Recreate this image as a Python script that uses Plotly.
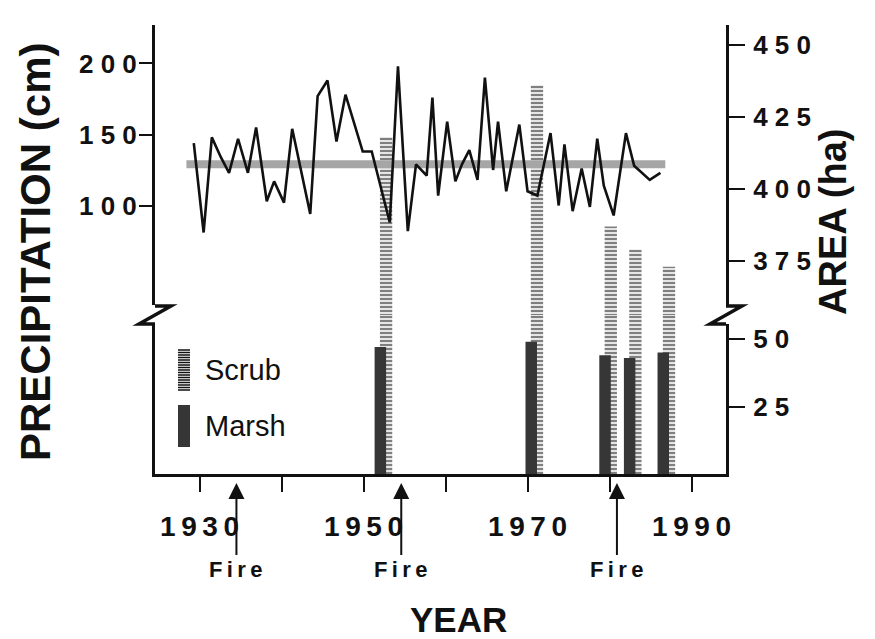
import plotly.graph_objects as go

# ---------------- data ----------------
precip_years = [1929.3, 1930.5, 1931.5, 1932.6, 1933.6, 1934.7, 1935.9, 1936.9, 1938.2, 1939.1,
                1940.3, 1941.3, 1943.5, 1944.4, 1945.6, 1946.7, 1947.8, 1949.9, 1951.0, 1953.2,
                1954.2, 1955.4, 1956.4, 1957.7, 1958.4, 1959.1, 1960.2, 1961.2, 1962.0, 1962.9,
                1963.9, 1964.8, 1965.8, 1966.4, 1967.4, 1969.0, 1970.0, 1971.2, 1972.8, 1973.8,
                1974.5, 1975.5, 1976.6, 1977.6, 1978.5, 1979.3, 1980.5, 1982.0, 1983.0, 1984.9,
                1986.2]
precip_cm = [144, 81, 148, 134, 123, 147, 123, 155, 103, 117,
             102, 154, 94, 177, 188, 145, 178, 138, 138, 88,
             198, 82, 129, 121, 176, 107, 159, 117, 129, 139,
             118, 190, 125, 159, 110, 157, 110, 107, 151, 100,
             143, 96, 126, 99, 147, 114, 93, 151, 128, 118,
             123]
mean_precip = 129
mean_span_years = [1928.4, 1986.8]

survey_years = [1952.4, 1970.8, 1979.8, 1982.8, 1986.9]
scrub_ha = [418, 436, 387, 379, 373]
marsh_ha = [47, 49, 44, 43, 45]

fire_years = [1934.5, 1954.6, 1980.9]

TS = "\u2009"  # thin space used for the letter-spaced lettering of the original
x_tickvals = [1930, 1940, 1950, 1960, 1970, 1980, 1990]
x_ticktext = [TS.join("1930"), "", TS.join("1950"), "", TS.join("1970"), "", TS.join("1990")]
precip_tickvals = [100, 150, 200]
precip_ticktext = ["1 0 0", "1 5 0", "2 0 0"]
area_hi_tickvals = [375, 400, 425, 450]
area_hi_ticktext = ["3 7 5", "4 0 0", "4 2 5", "4 5 0"]
area_lo_tickvals = [25, 50]
area_lo_ticktext = ["2 5", "5 0"]

# ---------------- geometry helpers (layout only) ----------------
W, H = 875, 639
L, R, T, B = 155, 726, 25, 474
BREAK = 315


def px(x):
    return (x - L) / (R - L)


def py(y):
    return (B - y) / (B - T)


FONT = "Liberation Sans, Arial, Helvetica, sans-serif"
INK = "#111111"

fig = go.Figure()

scrub_marker = dict(color="white",
                    pattern=dict(shape="-", fgcolor="black", bgcolor="white", size=4, solidity=0.6),
                    line=dict(width=0))

# scrub bars: lower and upper panels
fig.add_trace(go.Bar(x=survey_years, y=scrub_ha, xaxis="x", yaxis="y", width=1.5, offset=-0.4,
                     marker=scrub_marker, showlegend=False, name="Scrub"))
fig.add_trace(go.Bar(x=survey_years, y=scrub_ha, xaxis="x2", yaxis="y2", width=1.5, offset=-0.4,
                     marker=scrub_marker, showlegend=False, name="Scrub"))
# marsh bars
fig.add_trace(go.Bar(x=survey_years, y=marsh_ha, xaxis="x", yaxis="y", width=1.4, offset=-1.05,
                     marker=dict(color="#363636", line=dict(width=0)), showlegend=False, name="Marsh"))
# mean precipitation band
fig.add_trace(go.Scatter(x=mean_span_years, y=[mean_precip, mean_precip], xaxis="x2", yaxis="y3",
                         mode="lines", line=dict(color="#a6a6a6", width=8), showlegend=False))
# precipitation line
fig.add_trace(go.Scatter(x=precip_years, y=precip_cm, xaxis="x2", yaxis="y3", mode="lines",
                         line=dict(color=INK, width=2.6), showlegend=False))

split = py(BREAK)
ytickfont = dict(family=FONT, size=26, color=INK, weight="bold")
xtickfont = dict(family=FONT, size=28, color=INK, weight="bold")
common_axis = dict(showgrid=False, zeroline=False, showline=True, linewidth=3, linecolor=INK,
                   ticks="outside", tickwidth=2, tickcolor=INK)

fig.update_layout(
    width=W, height=H,
    margin=dict(l=L, r=W - R, t=T, b=H - B, pad=0),
    paper_bgcolor="white", plot_bgcolor="white",
    barmode="overlay", showlegend=False,
    xaxis=dict(domain=[0, 1], range=[1924.57, 1994.2], anchor="y", tickvals=x_tickvals,
               ticktext=x_ticktext, ticklen=15, ticklabelstandoff=10, tickfont=xtickfont,
               **common_axis),
    xaxis2=dict(domain=[0, 1], range=[1924.57, 1994.2], anchor="y2", matches="x", visible=False),
    yaxis=dict(domain=[0, split], range=[0, 58.9], anchor="x", side="right", mirror=True,
               tickvals=area_lo_tickvals, ticktext=area_lo_ticktext, ticklen=16,
               ticklabelstandoff=3, tickfont=ytickfont, **common_axis),
    yaxis2=dict(domain=[split, 1], range=[356.25, 456.9], anchor="x2", side="right",
                tickvals=area_hi_tickvals, ticktext=area_hi_ticktext, ticklen=16,
                ticklabelstandoff=3, tickfont=ytickfont, **common_axis),
    yaxis3=dict(overlaying="y2", anchor="x2", side="left", range=[22.9, 227.1],
                tickvals=precip_tickvals, ticktext=precip_ticktext, ticklen=13,
                ticklabelstandoff=-3, tickfont=ytickfont, **common_axis),
)

shapes = []
# axis breaks
for ax_x in (L, R):
    shapes.append(dict(type="rect", xref="paper", yref="paper", layer="above",
                       x0=px(ax_x - 5), x1=px(ax_x + 5), y0=py(324), y1=py(305),
                       fillcolor="white", line=dict(width=0)))
    path = (f"M {px(ax_x)},{py(306)} L {px(ax_x + 16)},{py(306)} "
            f"L {px(ax_x - 16)},{py(324)} L {px(ax_x)},{py(324)}")
    shapes.append(dict(type="path", xref="paper", yref="paper", layer="above", path=path,
                       line=dict(color=INK, width=3.5)))

# legend swatches
shapes.append(dict(type="rect", xref="paper", yref="paper", x0=px(178), x1=px(190),
                   y0=py(392), y1=py(349), fillcolor="white", line=dict(width=0)))
hatch = " ".join(f"M {px(178)},{py(350 + i * 2.5)} L {px(190)},{py(350 + i * 2.5)}"
                 for i in range(17))
shapes.append(dict(type="path", xref="paper", yref="paper", path=hatch,
                   line=dict(color=INK, width=1.5)))
shapes.append(dict(type="rect", xref="paper", yref="paper", x0=px(178), x1=px(190),
                   y0=py(447), y1=py(405), fillcolor="#363636", line=dict(width=0)))

annotations = [
    dict(text="Scrub", xref="paper", yref="paper", x=px(203), y=py(370), xanchor="left",
         yanchor="middle", showarrow=False, font=dict(family=FONT, size=29, color=INK)),
    dict(text="Marsh", xref="paper", yref="paper", x=px(203), y=py(426), xanchor="left",
         yanchor="middle", showarrow=False, font=dict(family=FONT, size=29, color=INK)),
    dict(text="PRECIPITATION (cm)", xref="paper", yref="paper", x=px(35), y=py(252),
         textangle=-90, showarrow=False, xanchor="center", yanchor="middle",
         font=dict(family=FONT, size=42, color=INK, weight="bold")),
    dict(text="AREA (ha)", xref="paper", yref="paper", x=px(833), y=py(222),
         textangle=-90, showarrow=False, xanchor="center", yanchor="middle",
         font=dict(family=FONT, size=38, color=INK, weight="bold")),
    dict(text="YEAR", xref="paper", yref="paper", x=px(458), y=py(619), showarrow=False,
         xanchor="center", yanchor="middle",
         font=dict(family=FONT, size=35, color=INK, weight="bold")),
]
for fy in fire_years:
    annotations.append(dict(text=TS.join("Fire"), x=fy, xref="x", y=py(483), yref="paper",
                            ax=0, ay=86, showarrow=True, arrowhead=2, arrowsize=1.6,
                            arrowwidth=2, arrowcolor=INK, standoff=0, startstandoff=0,
                            font=dict(family=FONT, size=22, color=INK, weight="bold")))

fig.update_layout(shapes=shapes, annotations=annotations)
fig.write_html("out.html")
